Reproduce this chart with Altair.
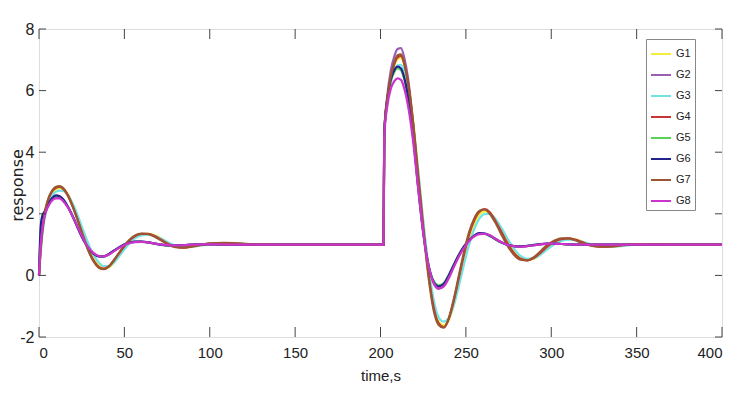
import altair as alt
import pandas as pd

# time grid (s)
T1 = [0, 1, 2, 3, 4, 6, 8, 10, 12, 14, 17, 20, 23, 26, 29, 32, 35, 38, 41, 44,
      48, 52, 56, 60, 64, 68, 72, 76, 80, 85, 90, 95, 100, 108, 116, 125, 140, 160, 180, 201.8]
T2 = [202.2, 204, 206, 208, 210, 212, 214, 216, 219, 222, 225, 228, 231, 234, 237,
      240, 243, 246, 249, 252, 255, 258, 261, 264, 267, 270, 274, 278, 282, 286,
      290, 294, 298, 302, 306, 310, 314, 318, 322, 326, 330, 336, 342, 350, 360, 375, 400]

SERIES = ["G1", "G2", "G3", "G4", "G5", "G6", "G7", "G8"]
COLORS = ["#f2ee3a", "#9a5fb5", "#6fe3e6", "#c93434", "#55d455", "#23238c", "#9a5632", "#cc33cc"]

G1_a = [0, 0.8, 1.38, 1.8, 2.1, 2.48, 2.7, 2.8, 2.83, 2.81, 2.62, 2.28, 1.85, 1.38, 0.93,
        0.57, 0.34, 0.24, 0.26, 0.42, 0.72, 1.02, 1.24, 1.34, 1.35, 1.3, 1.18, 1.05, 0.96, 0.91,
        0.93, 0.98, 1.02, 1.05, 1.04, 1.01, 1.0, 1.0, 1.0, 1.0]
G1_b = [4.6, 5.65, 6.35, 6.8, 7.02, 7.06, 6.82, 6.32, 5.1, 3.45, 1.75, 0.25, -0.88, -1.48, -1.62,
        -1.45, -0.95, -0.25, 0.5, 1.18, 1.68, 1.98, 2.08, 2.03, 1.84, 1.56, 1.15, 0.8, 0.57, 0.5,
        0.54, 0.7, 0.9, 1.06, 1.16, 1.19, 1.17, 1.1, 1.02, 0.96, 0.93, 0.93, 0.97, 1.01, 1.01, 1.0, 1.0]

G2_a = [0, 1.2, 1.7, 1.95, 2.1, 2.35, 2.5, 2.55, 2.54, 2.45, 2.22, 1.9, 1.53, 1.18, 0.9,
        0.71, 0.62, 0.61, 0.68, 0.8, 0.94, 1.04, 1.09, 1.1, 1.07, 1.03, 1.0, 0.97, 0.97, 0.98,
        1.0, 1.01, 1.01, 1.0, 1.0, 1.0, 1.0, 1.0, 1.0, 1.0]
G2_b = [4.6, 5.85, 6.65, 7.1, 7.35, 7.38, 7.05, 6.45, 5.0, 3.15, 1.5, 0.35, -0.25, -0.44, -0.36,
        -0.08, 0.3, 0.65, 0.93, 1.14, 1.29, 1.36, 1.36, 1.3, 1.2, 1.1, 1.0, 0.95, 0.93, 0.95,
        0.98, 1.01, 1.03, 1.03, 1.02, 1.01, 1.0, 1.0, 1.0, 1.0, 1.0, 1.0, 1.0, 1.0, 1.0, 1.0, 1.0]

G3_a = [0, 0.75, 1.32, 1.74, 2.05, 2.42, 2.62, 2.72, 2.75, 2.74, 2.6, 2.3, 1.9, 1.45, 1.02,
        0.66, 0.42, 0.3, 0.3, 0.42, 0.7, 0.98, 1.2, 1.3, 1.32, 1.28, 1.18, 1.06, 0.97, 0.92,
        0.93, 0.97, 1.01, 1.04, 1.04, 1.01, 1.0, 1.0, 1.0, 1.0]
G3_b = [4.6, 5.6, 6.25, 6.65, 6.82, 6.84, 6.62, 6.15, 5.0, 3.45, 1.8, 0.35, -0.75, -1.35, -1.5,
        -1.38, -0.95, -0.32, 0.38, 1.02, 1.52, 1.85, 1.99, 2.0, 1.86, 1.62, 1.24, 0.88, 0.63, 0.54,
        0.56, 0.68, 0.86, 1.02, 1.12, 1.16, 1.15, 1.1, 1.03, 0.97, 0.94, 0.93, 0.96, 1.0, 1.01, 1.0, 1.0]

G4_a = [0, 0.9, 1.5, 1.9, 2.2, 2.55, 2.75, 2.85, 2.87, 2.82, 2.58, 2.2, 1.75, 1.26, 0.82,
        0.48, 0.28, 0.22, 0.3, 0.5, 0.8, 1.08, 1.27, 1.35, 1.35, 1.27, 1.14, 1.01, 0.93, 0.9,
        0.94, 0.99, 1.03, 1.06, 1.04, 1.01, 1.0, 1.0, 1.0, 1.0]
G4_b = [4.6, 5.7, 6.4, 6.85, 7.08, 7.13, 6.85, 6.3, 5.0, 3.3, 1.6, 0.1, -1.0, -1.55, -1.68,
        -1.4, -0.8, -0.05, 0.7, 1.35, 1.8, 2.07, 2.15, 2.05, 1.8, 1.5, 1.08, 0.74, 0.54, 0.49,
        0.57, 0.75, 0.95, 1.1, 1.18, 1.2, 1.16, 1.08, 1.0, 0.95, 0.93, 0.94, 0.98, 1.02, 1.01, 1.0, 1.0]

G5_a = [0, 1.4, 1.85, 2.0, 2.12, 2.36, 2.52, 2.58, 2.56, 2.47, 2.22, 1.89, 1.52, 1.17, 0.89,
        0.71, 0.63, 0.62, 0.69, 0.8, 0.94, 1.04, 1.09, 1.1, 1.07, 1.03, 0.99, 0.97, 0.97, 0.98,
        1.0, 1.01, 1.01, 1.0, 1.0, 1.0, 1.0, 1.0, 1.0, 1.0]
G5_b = [4.6, 5.7, 6.3, 6.6, 6.72, 6.66, 6.35, 5.8, 4.55, 2.9, 1.42, 0.38, -0.16, -0.32, -0.25,
        0.02, 0.36, 0.68, 0.95, 1.15, 1.29, 1.36, 1.35, 1.28, 1.18, 1.08, 1.0, 0.95, 0.94, 0.96,
        0.99, 1.02, 1.03, 1.03, 1.02, 1.01, 1.0, 1.0, 1.0, 1.0, 1.0, 1.0, 1.0, 1.0, 1.0, 1.0, 1.0]

G6_a = [0, 1.6, 1.95, 2.05, 2.15, 2.38, 2.53, 2.6, 2.57, 2.48, 2.22, 1.88, 1.5, 1.15, 0.88,
        0.7, 0.62, 0.62, 0.7, 0.81, 0.95, 1.05, 1.1, 1.1, 1.07, 1.03, 0.99, 0.97, 0.97, 0.98,
        1.0, 1.01, 1.01, 1.0, 1.0, 1.0, 1.0, 1.0, 1.0, 1.0]
G6_b = [4.6, 5.75, 6.35, 6.65, 6.78, 6.72, 6.4, 5.85, 4.6, 2.9, 1.4, 0.35, -0.2, -0.36, -0.28,
        0.0, 0.35, 0.68, 0.95, 1.15, 1.3, 1.37, 1.36, 1.29, 1.19, 1.09, 1.0, 0.95, 0.94, 0.96,
        0.99, 1.02, 1.03, 1.03, 1.02, 1.01, 1.0, 1.0, 1.0, 1.0, 1.0, 1.0, 1.0, 1.0, 1.0, 1.0, 1.0]

G7_a = [0, 0.85, 1.45, 1.88, 2.2, 2.57, 2.78, 2.88, 2.9, 2.84, 2.6, 2.2, 1.74, 1.24, 0.79,
        0.45, 0.25, 0.2, 0.29, 0.5, 0.82, 1.1, 1.29, 1.36, 1.34, 1.25, 1.12, 0.99, 0.92, 0.9,
        0.95, 1.0, 1.04, 1.05, 1.03, 1.01, 1.0, 1.0, 1.0, 1.0]
G7_b = [4.6, 5.75, 6.45, 6.9, 7.15, 7.18, 6.88, 6.3, 4.95, 3.2, 1.5, 0.0, -1.1, -1.6, -1.7,
        -1.4, -0.75, 0.02, 0.78, 1.42, 1.86, 2.1, 2.14, 2.0, 1.74, 1.42, 1.0, 0.68, 0.51, 0.49,
        0.6, 0.8, 1.0, 1.13, 1.2, 1.2, 1.14, 1.05, 0.98, 0.94, 0.93, 0.95, 0.99, 1.02, 1.01, 1.0, 1.0]

G8_a = [0, 1.0, 1.55, 1.85, 2.05, 2.3, 2.45, 2.5, 2.5, 2.42, 2.2, 1.88, 1.52, 1.18, 0.9,
        0.72, 0.63, 0.62, 0.68, 0.79, 0.93, 1.03, 1.08, 1.09, 1.07, 1.03, 1.0, 0.98, 0.97, 0.98,
        1.0, 1.01, 1.01, 1.0, 1.0, 1.0, 1.0, 1.0, 1.0, 1.0]
G8_b = [4.5, 5.5, 6.05, 6.3, 6.4, 6.35, 6.05, 5.55, 4.4, 2.85, 1.4, 0.35, -0.22, -0.42, -0.35,
        -0.08, 0.28, 0.62, 0.9, 1.12, 1.27, 1.34, 1.35, 1.3, 1.2, 1.1, 1.0, 0.95, 0.93, 0.95,
        0.98, 1.01, 1.03, 1.03, 1.02, 1.01, 1.0, 1.0, 1.0, 1.0, 1.0, 1.0, 1.0, 1.0, 1.0, 1.0, 1.0]

VALUES = {
    "G1": G1_a + G1_b, "G2": G2_a + G2_b, "G3": G3_a + G3_b, "G4": G4_a + G4_b,
    "G5": G5_a + G5_b, "G6": G6_a + G6_b, "G7": G7_a + G7_b, "G8": G8_a + G8_b,
}
TIME = T1 + T2

XTICKS = [0, 50, 100, 150, 200, 250, 300, 350, 400]
YTICKS = [-2, 0, 2, 4, 6, 8]

rows = []
for s in SERIES:
    vals = VALUES[s]
    assert len(vals) == len(TIME), (s, len(vals))
    for t, v in zip(TIME, vals):
        rows.append({"series": s, "time": t, "response": v})
df = pd.DataFrame(rows)

W, H = 683, 308
LAB = "Liberation Sans"

xs = alt.Scale(domain=[0, 400], nice=False, zero=False)
ys = alt.Scale(domain=[-2, 8], nice=False, zero=False)

x_axis = alt.Axis(values=XTICKS, title="time,s", ticks=False, grid=False, domain=False,
                  labelPadding=8, labelFont=LAB, labelFontSize=15, labelColor="#222",
                  titleFont=LAB, titleFontSize=15, titleFontWeight="normal",
                  titleColor="#222", titleY=38, titleBaseline="middle")
y_axis = alt.Axis(values=YTICKS, title="response", ticks=False, grid=False, domain=False,
                  labelExpr="'' + datum.value",
                  labelPadding=5, labelFont=LAB, labelFontSize=16, labelColor="#222",
                  titleFont="DejaVu Sans", titleFontSize=16, titleFontWeight="normal",
                  titleColor="#222", titleX=-22, titleY=156, titleBaseline="middle",
                  titleAngle=270)

lines = alt.Chart(df).mark_line(interpolate="monotone", strokeWidth=2.2).encode(
    x=alt.X("time:Q", scale=xs, axis=x_axis),
    y=alt.Y("response:Q", scale=ys, axis=y_axis),
    color=alt.Color("series:N", scale=alt.Scale(domain=SERIES, range=COLORS), sort=SERIES,
                    legend=alt.Legend(title=None, orient="none", legendX=607, legendY=10,
                                      symbolType="stroke", symbolSize=400, symbolStrokeWidth=2,
                                      labelFont=LAB, labelFontSize=11, labelColor="#222",
                                      labelOffset=4, rowPadding=5, padding=4,
                                      strokeColor="#888", fillColor="white")),
)

xt = pd.DataFrame({"time": XTICKS})
yt = pd.DataFrame({"response": YTICKS})

bottom_ticks = alt.Chart(xt).mark_rule(color="#444", strokeWidth=1).encode(
    x=alt.X("time:Q", scale=xs, axis=x_axis), y=alt.value(H), y2=alt.value(H - 10))
top_ticks = alt.Chart(xt).mark_rule(color="#444", strokeWidth=1).encode(
    x=alt.X("time:Q", scale=xs, axis=x_axis), y=alt.value(0), y2=alt.value(10))
left_ticks = alt.Chart(yt).mark_rule(color="#444", strokeWidth=1).encode(
    y=alt.Y("response:Q", scale=ys, axis=y_axis), x=alt.value(0), x2=alt.value(7))
right_ticks = alt.Chart(yt).mark_rule(color="#444", strokeWidth=1).encode(
    y=alt.Y("response:Q", scale=ys, axis=y_axis), x=alt.value(W), x2=alt.value(W - 7))

chart = alt.layer(lines, bottom_ticks, top_ticks, left_ticks, right_ticks).properties(
    width=W, height=H,
    autosize=alt.AutoSizeParams(type="none"),
    padding={"left": 31, "top": 21, "right": 7, "bottom": 51},
).configure_view(stroke="#444", strokeWidth=1).configure(background="white")

chart.save("out.html", embed_options={"renderer": "svg", "actions": False})
